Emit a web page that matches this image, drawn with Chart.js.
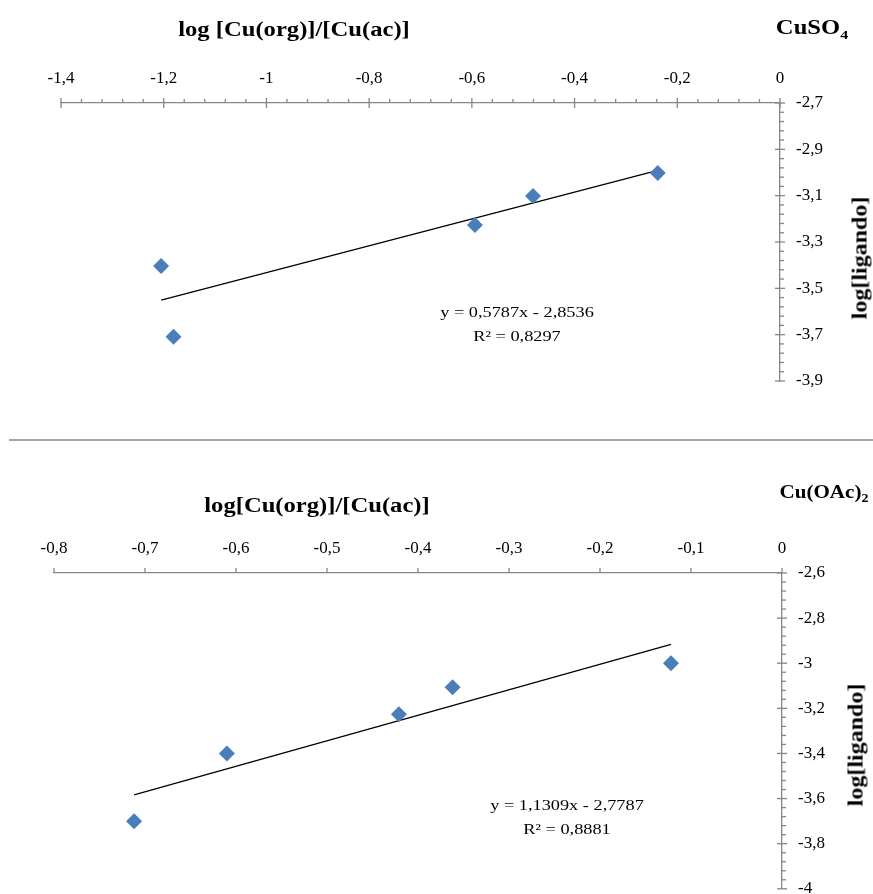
<!DOCTYPE html>
<html>
<head>
<meta charset="utf-8">
<script src="https://cdn.jsdelivr.net/npm/chart.js@4"></script>
<style>
  html, body { margin: 0; padding: 0; background: #fff; }
  body { width: 873px; height: 894px; overflow: hidden; position: relative; font-family: "Liberation Serif", serif; }
  canvas { position: absolute; left: 0; }
  .txt { position: absolute; transform: translate(-50%, -50%) scaleX(1.23); white-space: nowrap; color: #000; }
  .bold { font-weight: bold; font-size: 20px; }
  .eq { font-size: 15px; transform: translate(-50%, -50%) scaleX(1.22); }
  .vert { transform: translate(-50%, -50%) rotate(-90deg) scaleX(1.2); font-weight: bold; font-size: 20px; }
  #sep { position: absolute; left: 9px; top: 439px; width: 864px; height: 2px; background: #a6a6a6; }
</style>
</head>
<body>

<canvas id="chartTop" width="873" height="440" style="top:0px"></canvas>
<canvas id="chartBottom" width="873" height="470" style="top:445px"></canvas>

<div id="sep"></div>

<div class="txt bold" style="left:294px; top:29px">log [Cu(org)]/[Cu(ac)]</div>
<div class="txt bold" style="left:812px; top:29px">CuSO<sub style="font-size:13px">4</sub></div>
<div class="txt vert" style="left:860px; top:258px">log[ligando]</div>
<div class="txt eq" style="left:517px; top:312px">y = 0,5787x - 2,8536</div>
<div class="txt eq" style="left:517px; top:336px">R² = 0,8297</div>

<div class="txt bold" style="left:317px; top:505px">log[Cu(org)]/[Cu(ac)]</div>
<div class="txt bold" style="left:824px; top:494px; font-size:18px; transform: translate(-50%, -50%) scaleX(1.17)">Cu(OAc)<sub style="font-size:12px">2</sub></div>
<div class="txt vert" style="left:856px; top:745px">log[ligando]</div>
<div class="txt eq" style="left:567px; top:805px">y = 1,1309x - 2,7787</div>
<div class="txt eq" style="left:567px; top:829px">R² = 0,8881</div>

<script>
// CuSO4 data
var cuso4X = [-1.205, -1.181, -0.594, -0.481, -0.238];
var cuso4Y = [-3.404, -3.709, -3.227, -3.101, -3.002];
var cuso4Slope = 0.5787;
var cuso4Icept = -2.8536;
var cuso4XTicks = [-1.4, -1.2, -1, -0.8, -0.6, -0.4, -0.2, 0];
var cuso4XLabels = ["-1,4", "-1,2", "-1", "-0,8", "-0,6", "-0,4", "-0,2", "0"];
var cuso4YTicks = [-2.7, -2.9, -3.1, -3.3, -3.5, -3.7, -3.9];
var cuso4YLabels = ["-2,7", "-2,9", "-3,1", "-3,3", "-3,5", "-3,7", "-3,9"];

// Cu(OAc)2 data
var acX = [-0.712, -0.61, -0.421, -0.362, -0.122];
var acY = [-3.70, -3.40, -3.226, -3.107, -3.0];
var acSlope = 1.1309;
var acIcept = -2.7787;
var acXTicks = [-0.8, -0.7, -0.6, -0.5, -0.4, -0.3, -0.2, -0.1, 0];
var acXLabels = ["-0,8", "-0,7", "-0,6", "-0,5", "-0,4", "-0,3", "-0,2", "-0,1", "0"];
var acYTicks = [-2.6, -2.8, -3, -3.2, -3.4, -3.6, -3.8, -4];
var acYLabels = ["-2,6", "-2,8", "-3", "-3,2", "-3,4", "-3,6", "-3,8", "-4"];

var axisGray = "#868686";
var tickFont = { family: "Liberation Serif", size: 17 };

// majors plus minor subdivisions between them
function withMinor(majors, sub) {
  var out = [];
  for (var i = 0; i < majors.length; i++) {
    out.push(majors[i]);
    if (i < majors.length - 1) {
      for (var k = 1; k < sub; k++) {
        out.push(majors[i] + (majors[i + 1] - majors[i]) * k / sub);
      }
    }
  }
  return out;
}

function labelFor(majors, labels) {
  return function (v) {
    for (var i = 0; i < majors.length; i++) {
      if (Math.abs(majors[i] - v) < 1e-9) return labels[i];
    }
    return "";
  };
}

function isMajor(majors, v) {
  return majors.some(function (m) { return Math.abs(m - v) < 1e-9; });
}

// draws tick marks (major cross / minor outside) using the scales' own ticks
var tickMarks = {
  id: "tickMarks",
  afterDraw: function (chart, args, opts) {
    var ctx = chart.ctx;
    ctx.save();
    ctx.strokeStyle = axisGray;
    ctx.lineWidth = 1.3;
    ["x", "y"].forEach(function (id) {
      var s = chart.scales[id];
      var o = opts[id];
      s.ticks.forEach(function (t) {
        var p = s.getPixelForValue(t.value);
        var major = isMajor(o.majors, t.value);
        var inLen = major ? o.majorIn : 0;
        var outLen = major ? o.majorOut : o.minorOut;
        if (!major && !outLen) return;
        ctx.beginPath();
        if (id === "x") {
          var base = s.position === "top" ? s.bottom : s.top;
          ctx.moveTo(p, base + inLen);
          ctx.lineTo(p, base - outLen);
        } else {
          var baseX = s.left;
          ctx.moveTo(baseX - inLen, p);
          ctx.lineTo(baseX + outLen, p);
        }
        ctx.stroke();
      });
    });
    ctx.restore();
  }
};

function makeChart(id, xs, ys, slope, icept, xMaj, xLab, xSub, yMaj, yLab, pad, xFit, yFit, xMarks, yMarks) {
  var pts = xs.map(function (x, i) { return { x: x, y: ys[i] }; });
  var x0 = Math.min.apply(null, xs), x1 = Math.max.apply(null, xs);
  var trend = [{ x: x0, y: slope * x0 + icept }, { x: x1, y: slope * x1 + icept }];
  var xAll = withMinor(xMaj, xSub);
  var yAll = withMinor(yMaj, 5);
  xMarks.majors = xMaj;
  yMarks.majors = yMaj;

  return new Chart(document.getElementById(id), {
    type: "scatter",
    data: {
      datasets: [
        {
          data: pts,
          pointStyle: "rectRot",
          pointRadius: 8,
          pointHoverRadius: 8,
          backgroundColor: "#4a7ebb",
          borderWidth: 0
        },
        {
          type: "line",
          data: trend,
          borderColor: "#000",
          borderWidth: 1.3,
          pointRadius: 0,
          fill: false
        }
      ]
    },
    options: {
      responsive: false,
      animation: false,
      layout: { padding: pad },
      plugins: {
        legend: { display: false },
        tooltip: { enabled: false },
        tickMarks: { x: xMarks, y: yMarks }
      },
      scales: {
        x: {
          type: "linear",
          position: "top",
          min: xMaj[0],
          max: xMaj[xMaj.length - 1],
          afterBuildTicks: function (s) { s.ticks = xAll.map(function (v) { return { value: v }; }); },
          afterFit: function (s) { s.height = xFit; },
          border: { display: true, color: axisGray, width: 1.3 },
          grid: { drawOnChartArea: false, drawTicks: false },
          ticks: { autoSkip: false, maxRotation: 0, padding: 14, color: "#000", font: tickFont, callback: labelFor(xMaj, xLab) }
        },
        y: {
          type: "linear",
          position: "right",
          min: yMaj[yMaj.length - 1],
          max: yMaj[0],
          afterBuildTicks: function (s) { s.ticks = yAll.map(function (v) { return { value: v }; }); },
          afterFit: function (s) { s.width = yFit; },
          border: { display: true, color: axisGray, width: 1.3 },
          grid: { drawOnChartArea: false, drawTicks: false },
          ticks: { autoSkip: false, padding: 16, color: "#000", font: tickFont, callback: labelFor(yMaj, yLab) }
        }
      }
    },
    plugins: [tickMarks]
  });
}

makeChart("chartTop", cuso4X, cuso4Y, cuso4Slope, cuso4Icept,
  cuso4XTicks, cuso4XLabels, 5, cuso4YTicks, cuso4YLabels,
  { top: 60, left: 61, right: 23, bottom: 59 }, 43, 70,
  { majorIn: 5, majorOut: 5, minorOut: 4 }, { majorIn: 5, majorOut: 5, minorOut: 4 });

makeChart("chartBottom", acX, acY, acSlope, acIcept,
  acXTicks, acXLabels, 1, acYTicks, acYLabels,
  { top: 85, left: 54, right: 21, bottom: 24 }, 43, 70,
  { majorIn: 0, majorOut: 5, minorOut: 0 }, { majorIn: 5, majorOut: 5, minorOut: 4 });
</script>
</body>
</html>
